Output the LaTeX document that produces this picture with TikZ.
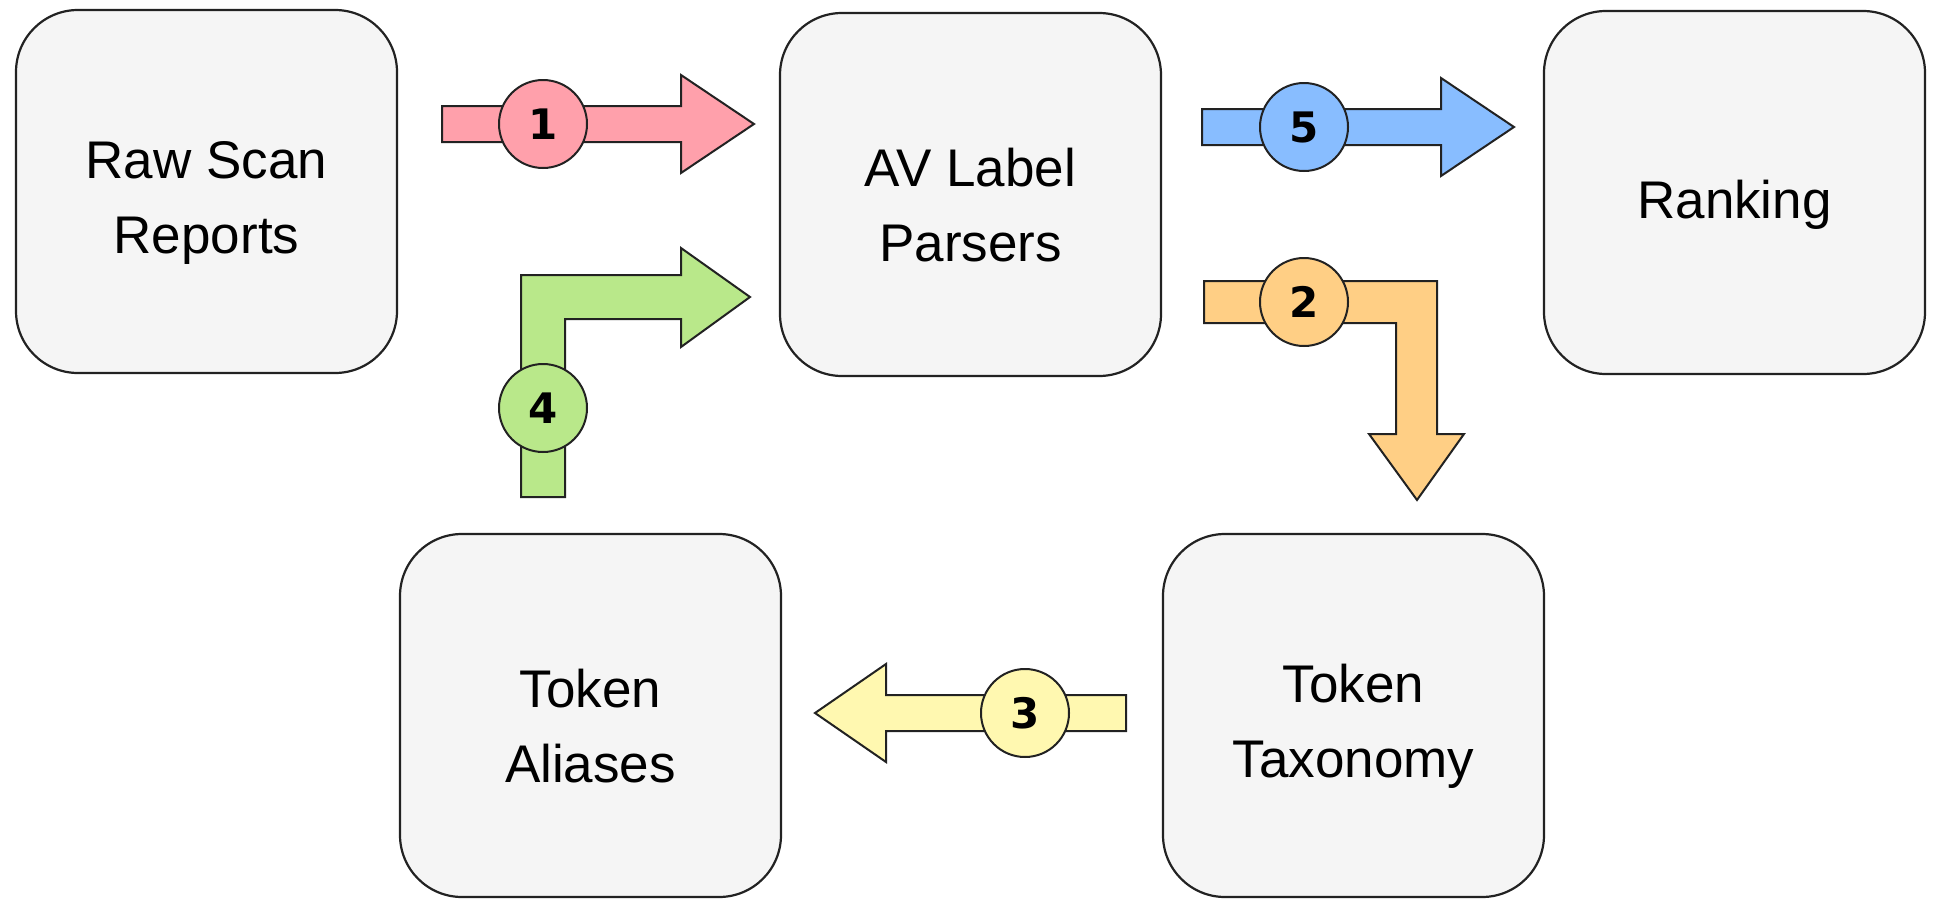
\documentclass[tikz,border=0pt]{standalone}
\usepackage{fontspec}
\setmainfont{Liberation Sans}
\newfontfamily\digitfont{DejaVu Sans}
\usetikzlibrary{calc}
\definecolor{boxfill}{HTML}{F5F5F5}
\definecolor{boxline}{HTML}{222222}
\definecolor{cpink}{HTML}{FFA0AB}
\definecolor{cgreen}{HTML}{B9E88A}
\definecolor{cblue}{HTML}{88BDFF}
\definecolor{corange}{HTML}{FFCF85}
\definecolor{cyellow}{HTML}{FFF8B0}
\tikzset{
  stagebox/.style={draw=boxline, line width=2.2pt, fill=boxfill, rounded corners=62pt,
    minimum width=381pt, minimum height=363pt, inner sep=0pt},
  stagetext/.style={align=center, font=\fontsize{53}{75}\selectfont, inner sep=0pt},
  blockarrow/.style={draw=boxline, line width=2pt, line join=miter},
  stepnum/.style={circle, draw=boxline, line width=2pt, minimum size=88pt, inner sep=0pt,
    font=\digitfont\bfseries\fontsize{42}{42}\selectfont}
}
\begin{document}
\begin{tikzpicture}[x=1pt,y=-1pt]
\useasboundingbox (0,0) rectangle (1936,900);
% stages
\node[stagebox] (raw) at (206.5,191.5) {};
\node[stagetext] (rawt) at ([yshift=-11pt]raw.center) {Raw Scan\\Reports};
\node[stagebox] (av) at (970.5,194.5) {};
\node[stagetext] (avt) at ([yshift=-11pt]av.center) {AV Label\\Parsers};
\node[stagebox] (rank) at (1734.5,192.5) {};
\node[stagetext] (rankt) at ([yshift=-12pt]rank.center) {Ranking};
\node[stagebox] (alias) at (590.5,715.5) {};
\node[stagetext] (aliast) at ([yshift=-11pt]alias.center) {Token\\Aliases};
\node[stagebox] (tax) at (1353.5,715.5) {};
\node[stagetext] (taxt) at ([yshift=-11pt]tax.center) {Token\\Taxonomy};
% arrow 1: raw -> av
\coordinate (t1) at (754,124);
\filldraw[blockarrow, fill=cpink] (442,106) -- (681,106) -- (681,75) -- (t1) -- (681,173) -- (681,142) -- (442,142) -- cycle;
\node[stepnum, fill=cpink] (n1) at (543,124) {1};
% arrow 5: av -> rank
\coordinate (t5) at (1514,127);
\filldraw[blockarrow, fill=cblue] (1202,109) -- (1441,109) -- (1441,78) -- (t5) -- (1441,176) -- (1441,145) -- (1202,145) -- cycle;
\node[stepnum, fill=cblue] (n5) at (1304,127) {5};
% arrow 2: av -> tax
\coordinate (t2) at (1417,500);
\filldraw[blockarrow, fill=corange] (1204,281) -- (1437,281) -- (1437,434) -- (1464,434) -- (t2) -- (1369,434) -- (1396,434) -- (1396,323) -- (1204,323) -- cycle;
\node[stepnum, fill=corange] (n2) at (1304,302) {2};
% arrow 3: tax -> alias
\coordinate (t3) at (815,713);
\filldraw[blockarrow, fill=cyellow] (1126,695) -- (886,695) -- (886,664) -- (t3) -- (886,762) -- (886,731) -- (1126,731) -- cycle;
\node[stepnum, fill=cyellow] (n3) at (1025,713) {3};
% arrow 4: alias -> av
\coordinate (t4) at (750,297);
\filldraw[blockarrow, fill=cgreen] (521,497) -- (521,275) -- (681,275) -- (681,248) -- (t4) -- (681,347) -- (681,319) -- (565,319) -- (565,497) -- cycle;
\node[stepnum, fill=cgreen] (n4) at (543,408) {4};
\end{tikzpicture}
\end{document}
